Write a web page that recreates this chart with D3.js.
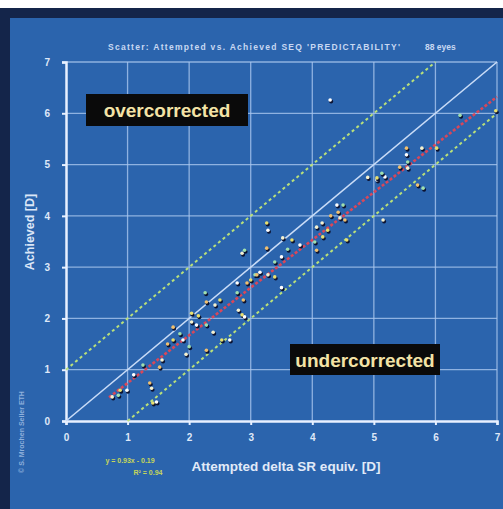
<!DOCTYPE html>
<meta charset="utf-8">
<head>
<script src="https://cdn.jsdelivr.net/npm/d3@7"></script>
<style>
body { margin: 0; background: #fff; }
text { font-family: "Liberation Sans", Arial, sans-serif; font-weight: bold; }
</style>
</head>
<body>
<script>

// data
var attempted = [0.75,0.88,0.99,0.85,1.36,1.39,1.41,1.47,1.25,1.52,1.56,1.74,1.9,2.0,1.74,2.04,2.04,2.12,2.28,2.28,
                 2.39,2.53,2.66,2.26,2.28,2.42,2.5,2.78,2.78,2.88,2.8,2.86,2.9,3.07,2.94,2.86,3.26,3.28,2.9,3.26,
                 3.52,3.67,3.5,3.39,3.1,3.28,3.39,3.5,4.04,4.07,4.16,4.25,4.4,4.5,4.42,4.45,4.56,5.05,6.4,5.53,
                 5.78,6.02,5.53,5.55,5.42,5.55,5.05,5.18,5.8,5.71,5.15,6.98,4.29,5.13,4.53,4.07,4.17,3.8,1.85,1.65,
                 1.95,2.15,3.15,3.6,4.3,4.9,3.0,1.1];
var achieved = [0.47,0.6,0.6,0.5,0.74,0.64,0.35,0.37,1.09,1.05,1.19,1.58,1.58,1.45,1.83,1.93,2.1,1.87,1.87,1.38,
                1.73,1.58,1.58,2.5,2.32,2.26,2.36,2.69,2.5,2.36,2.16,2.07,2.03,2.85,2.69,3.27,3.86,3.72,3.33,3.37,
                3.57,3.53,3.2,3.1,2.85,2.85,2.81,2.6,3.49,3.33,3.86,3.72,4.21,4.21,4.07,3.96,3.53,4.7,5.96,5.32,
                5.32,5.32,5.19,5.05,4.95,4.93,4.74,4.76,4.54,4.6,3.92,6.05,6.26,4.83,3.92,3.78,3.59,3.43,1.7,1.5,
                1.3,2.05,2.9,3.35,4.0,4.75,2.75,0.9];

var ticks = [0, 1, 2, 3, 4, 5, 6, 7];
var fitSlope = 0.93, fitIntercept = -0.19, fitStart = 0.7, fitEnd = 7;
var fitLabels = ["y = 0.93x - 0.19", "R\u00b2 = 0.94"];
var bandOffset = 1; // +/- 1 D lines

var W = 503, H = 509;

var svg = d3.select("body").append("svg")
    .attr("width", W)
    .attr("height", H);

// frame
svg.append("rect").attr("x", 0).attr("y", 8).attr("width", W).attr("height", H - 8).attr("fill", "#14254a");
svg.append("rect").attr("x", 10).attr("y", 18).attr("width", W - 10).attr("height", H - 18).attr("fill", "#2b64ad");

var x = d3.scaleLinear().domain([0, 7]).range([66, 497]);
var y = d3.scaleLinear().domain([0, 7]).range([421, 62]);

// grid
svg.append("g").selectAll("line").data(ticks.slice(1)).enter().append("line")
    .attr("x1", function(d) { return x(d); }).attr("x2", function(d) { return x(d); })
    .attr("y1", y(0)).attr("y2", y(7))
    .attr("stroke", "#a9c6ee").attr("stroke-width", 1.3).attr("opacity", 0.8);
svg.append("g").selectAll("line").data(ticks.slice(1)).enter().append("line")
    .attr("y1", function(d) { return y(d); }).attr("y2", function(d) { return y(d); })
    .attr("x1", x(0)).attr("x2", x(7))
    .attr("stroke", "#a9c6ee").attr("stroke-width", 1.3).attr("opacity", 0.8);

// axes
var xAxis = svg.append("g").attr("transform", "translate(0," + y(0) + ")")
    .call(d3.axisBottom(x).tickValues(ticks).tickFormat(d3.format("d")).tickSize(4).tickPadding(9));
var yAxis = svg.append("g").attr("transform", "translate(" + x(0) + ",0)")
    .call(d3.axisLeft(y).tickValues(ticks).tickFormat(d3.format("d")).tickSize(4).tickPadding(12));
[xAxis, yAxis].forEach(function(a) {
  a.select(".domain").attr("stroke", "#e8f0ff").attr("stroke-width", 2.5);
  a.selectAll(".tick line").attr("stroke", "#e8f0ff").attr("stroke-width", 2);
  a.selectAll(".tick text").attr("fill", "#dfe8f8").attr("font-size", 10)
    .style("font-family", "'Liberation Sans', Arial, sans-serif").style("font-weight", "bold");
});

// identity line
svg.append("line")
    .attr("x1", x(0)).attr("y1", y(0)).attr("x2", x(7)).attr("y2", y(7))
    .attr("stroke", "#c9dcf7").attr("stroke-width", 1.6);

// +/- 1 D dashed lines
[[0, 7 - bandOffset, bandOffset], [bandOffset, 7, -bandOffset]].forEach(function(b) {
  svg.append("line")
      .attr("x1", x(b[0])).attr("y1", y(b[0] + b[2]))
      .attr("x2", x(b[1])).attr("y2", y(b[1] + b[2]))
      .attr("stroke", "#b9e07a").attr("stroke-width", 2)
      .attr("stroke-dasharray", "3,3");
});

// regression line
svg.append("line")
    .attr("x1", x(fitStart)).attr("y1", y(fitSlope * fitStart + fitIntercept))
    .attr("x2", x(fitEnd)).attr("y2", y(fitSlope * fitEnd + fitIntercept))
    .attr("stroke", "#d8475a").attr("stroke-width", 2.6)
    .attr("stroke-dasharray", "3,2");

// points: dark dot with a light highlight
var hl = ["#f4f1d0", "#e8e070", "#ffffff", "#9fe0b0", "#f0c070"];
var pts = svg.append("g").selectAll("g").data(attempted).enter().append("g");
pts.append("circle")
    .attr("cx", function(d) { return x(d) + 1; })
    .attr("cy", function(d, i) { return y(achieved[i]) + 1.5; })
    .attr("r", 2)
    .attr("fill", "#0b1230");
pts.append("circle")
    .attr("cx", function(d) { return x(d); })
    .attr("cy", function(d, i) { return y(achieved[i]); })
    .attr("r", 1.8)
    .attr("fill", function(d, i) { return hl[i % hl.length]; });

// label boxes
function tag(x0, y0, w, h, s) {
  svg.append("rect").attr("x", x0).attr("y", y0).attr("width", w).attr("height", h).attr("fill", "#0a0a0a");
  svg.append("text").attr("x", x0 + w / 2).attr("y", y0 + h / 2 + 7)
      .attr("text-anchor", "middle").attr("fill", "#f3e3a6").attr("font-size", 19)
      .text(s);
}
tag(86, 94, 162, 32, "overcorrected");
tag(290, 344, 150, 31, "undercorrected");

// titles
svg.append("text").attr("x", 108).attr("y", 50)
    .attr("fill", "#c8d8f2").attr("font-size", 8.5)
    .attr("textLength", 292)
    .text("Scatter: Attempted vs. Achieved SEQ 'PREDICTABILITY'");
svg.append("text").attr("x", 425).attr("y", 50)
    .attr("fill", "#c8d8f2").attr("font-size", 8.5)
    .text("88 eyes");

svg.append("text").attr("transform", "translate(34,232) rotate(-90)")
    .attr("text-anchor", "middle").attr("fill", "#dbe6f7").attr("font-size", 12.5)
    .text("Achieved [D]");

svg.append("text").attr("x", 286).attr("y", 471).attr("text-anchor", "middle")
    .attr("fill", "#e1eaf8").attr("font-size", 13.5)
    .text("Attempted delta SR equiv. [D]");

svg.append("text").attr("transform", "translate(24,432) rotate(-90)")
    .attr("text-anchor", "middle").attr("fill", "#8fb0dc").attr("font-size", 7)
    .text("\u00a9 S. Mrochen Seiler ETH");

svg.append("g").selectAll("text").data(fitLabels).enter().append("text")
    .attr("x", function(d, i) { return i ? 148 : 130; })
    .attr("y", function(d, i) { return 463 + i * 12; })
    .attr("text-anchor", "middle").attr("fill", "#c6d65a").attr("font-size", 7)
    .text(function(d) { return d; });

</script>
</body>
